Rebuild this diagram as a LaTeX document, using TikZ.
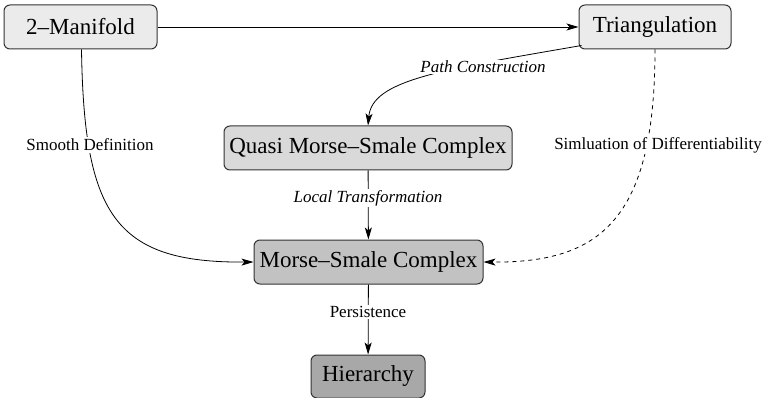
\documentclass[tikz,border=0pt]{standalone}
\usepackage{fontspec}
\setmainfont{Liberation Serif}
\usetikzlibrary{arrows.meta}
\begin{document}
\begin{tikzpicture}[x=1pt,y=-1pt,
  box/.style={draw=black!80, line width=1pt, rounded corners=6pt, inner xsep=0pt, inner ysep=0pt,
    minimum height=44pt, font=\fontsize{23}{27}\selectfont},
  lbl/.style={fill=white, inner sep=1.5pt, font=\fontsize{17}{20}\selectfont},
  ilbl/.style={lbl, font=\fontsize{17}{20}\selectfont\itshape},
  conn/.style={line width=0.8pt, -{Stealth[length=12pt,width=7pt,inset=3pt]}},
  dconn/.style={conn, dash pattern=on 4pt off 4pt}]
\useasboundingbox (0,0) rectangle (768,398);
\node[box, fill=black!8, minimum width=153pt] (man) at (80.5,27) {2–Manifold};
\node[box, fill=black!8, minimum width=152pt] (tri) at (655,27) {Triangulation};
\node[box, fill=black!15, minimum width=288pt] (qms) at (368,148) {Quasi Morse–Smale Complex};
\node[box, fill=black!24, minimum width=229pt] (ms) at (368.5,262) {Morse–Smale Complex};
\node[box, fill=black!34, minimum width=114pt, minimum height=43pt] (hi) at (368,376.5) {Hierarchy};
\path (tri.south west) ++(3,-4) coordinate (t0);
\path (man.south) ++(1,0) coordinate (m0);
% connectors
\draw[conn] (man) -- (tri);
\draw[conn] (t0) .. controls (440,70) and (372,80) .. (qms.north);
\draw[conn] (m0) .. controls (84,215) and (115,263) .. (ms.west);
\draw[dconn] (tri.south) .. controls (655,220) and (600,263) .. (ms.east);
\draw[conn] (qms) -- (ms);
\draw[conn] (ms) -- (hi);
% labels
\node[ilbl] (lpc) at (483,67) {Path Construction};
\node[lbl] (lsd) at (90,145) {Smooth Definition};
\node[lbl] (lsim) at (658,145) {Simluation of Differentiability};
\node[ilbl] (llt) at (368,198) {Local Transformation};
\node[lbl] (lp) at (368,312) {Persistence};
\end{tikzpicture}
\end{document}
